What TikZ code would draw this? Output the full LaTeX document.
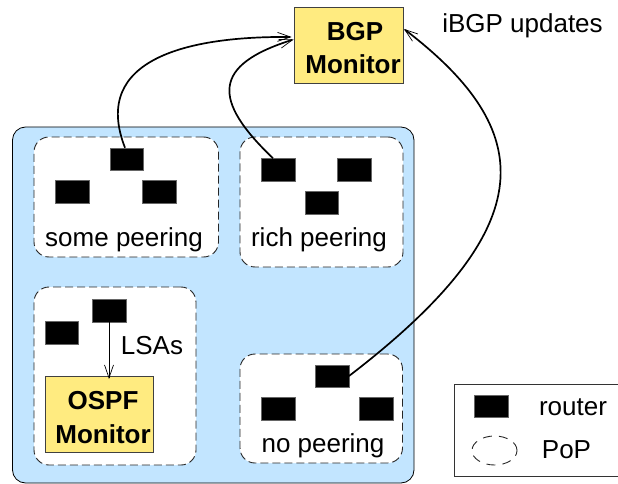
\documentclass[tikz,border=0pt]{standalone}
\usepackage{fontspec}
\setmainfont{Liberation Sans}
\usetikzlibrary{arrows.meta,shapes.geometric}
\definecolor{areablue}{HTML}{C2E5FF}
\definecolor{monyellow}{HTML}{FFEB80}
\tikzset{
  box/.style={draw=black!75,line width=0.9pt,inner sep=0pt,outer sep=0pt},
  routerbox/.style={fill=black,draw=black!60,line width=0.4pt,inner sep=0pt,outer sep=0pt,minimum width=33.5pt,minimum height=22.5pt},
  popbox/.style={draw=black!85,fill=white,dash pattern=on 8pt off 4pt,line width=0.9pt,rounded corners=15pt,inner sep=0pt,outer sep=0pt},
  monitor/.style={box,fill=monyellow,minimum width=108.5pt,minimum height=76pt},
  lab/.style={font=\fontsize{26}{26}\selectfont,inner sep=0pt,anchor=center},
  blab/.style={font=\fontsize{26}{26}\selectfont\bfseries,inner sep=0pt,anchor=center},
  link/.style={line width=1.7pt,-{Straight Barb[length=13pt,width=9pt,line width=0.7pt]}}
}
\begin{document}
\begin{tikzpicture}[x=1pt,y=-1pt]
\useasboundingbox (0,0) rectangle (618,484);
\node[draw=black,fill=areablue,line width=0.8pt,rounded corners=13pt,inner sep=0pt,minimum width=401.5pt,minimum height=356pt] (area) at (213.25,305) {};
\node[popbox,minimum width=184.5pt,minimum height=120pt] (popa) at (126.25,197) {};
\node[popbox,minimum width=163pt,minimum height=130pt] (popb) at (321.5,202) {};
\node[popbox,minimum width=162pt,minimum height=178pt] (popc) at (115,376) {};
\node[popbox,minimum width=162.5pt,minimum height=109pt] (popd) at (321.25,408.5) {};
\node[routerbox] (a1) at (126.5,159) {};
\node[routerbox] (a2) at (72,191.5) {};
\node[routerbox] (a3) at (159,191.5) {};
\node[routerbox] (b1) at (278,169.5) {};
\node[routerbox] (b2) at (354,169.5) {};
\node[routerbox] (b3) at (321.5,202.5) {};
\node[routerbox] (c1) at (61.5,332.5) {};
\node[routerbox] (c2) at (109,310.5) {};
\node[routerbox] (d1) at (332.25,376) {};
\node[routerbox] (d2) at (278,408.5) {};
\node[routerbox] (d3) at (376,408.5) {};
\node[monitor] (bgp) at (348.75,45) {};
\node[monitor] (ospf) at (99.25,414) {};
\node[blab] (bgpa) at (355,32) {BGP};
\node[blab] (bgpb) at (353,64) {Monitor};
\node[blab] (ospfa) at (103,401) {OSPF};
\node[blab] (ospfb) at (103,434) {Monitor};
\node[lab] (t1) at (124,239.5) {some peering};
\node[lab] (t2) at (319,239.5) {rich peering};
\node[lab] (t3) at (323,445.5) {no peering};
\node[lab] (t4) at (152,346) {LSAs};
\node[lab] (t5) at (522.5,26) {iBGP updates};
\draw[link] ([xshift=-1.5pt]a1.north) .. controls (90,58) and (190,36) .. ([yshift=8pt,xshift=-3pt]bgp.west);
\draw[link] ([xshift=-5pt]b1.north) .. controls (212,100) and (212,65) .. ([yshift=5.5pt,xshift=-1pt]bgp.west);
\draw[link] (d1.east) .. controls (546,225) and (536,130) .. ([yshift=16pt,xshift=1pt]bgp.east);
\draw[line width=1pt,-{Straight Barb[length=13pt,width=9pt,line width=0.7pt]}] (c2.south) -- ([yshift=-3pt]c2.south |- ospf.north);
\node[box,draw=black!80,minimum width=170pt,minimum height=92pt,line width=0.8pt] (legend) at (539.5,430) {};
\node[routerbox] (lr) at (491,406) {};
\node[lab] (lrt) at (573,407) {router};
\node[ellipse,draw=black!85,dash pattern=on 9pt off 7pt,line width=0.9pt,inner sep=0pt,minimum width=45pt,minimum height=29pt] (lp) at (494.5,450.5) {};
\node[lab] (lpt) at (566.5,450) {PoP};
\end{tikzpicture}
\end{document}
